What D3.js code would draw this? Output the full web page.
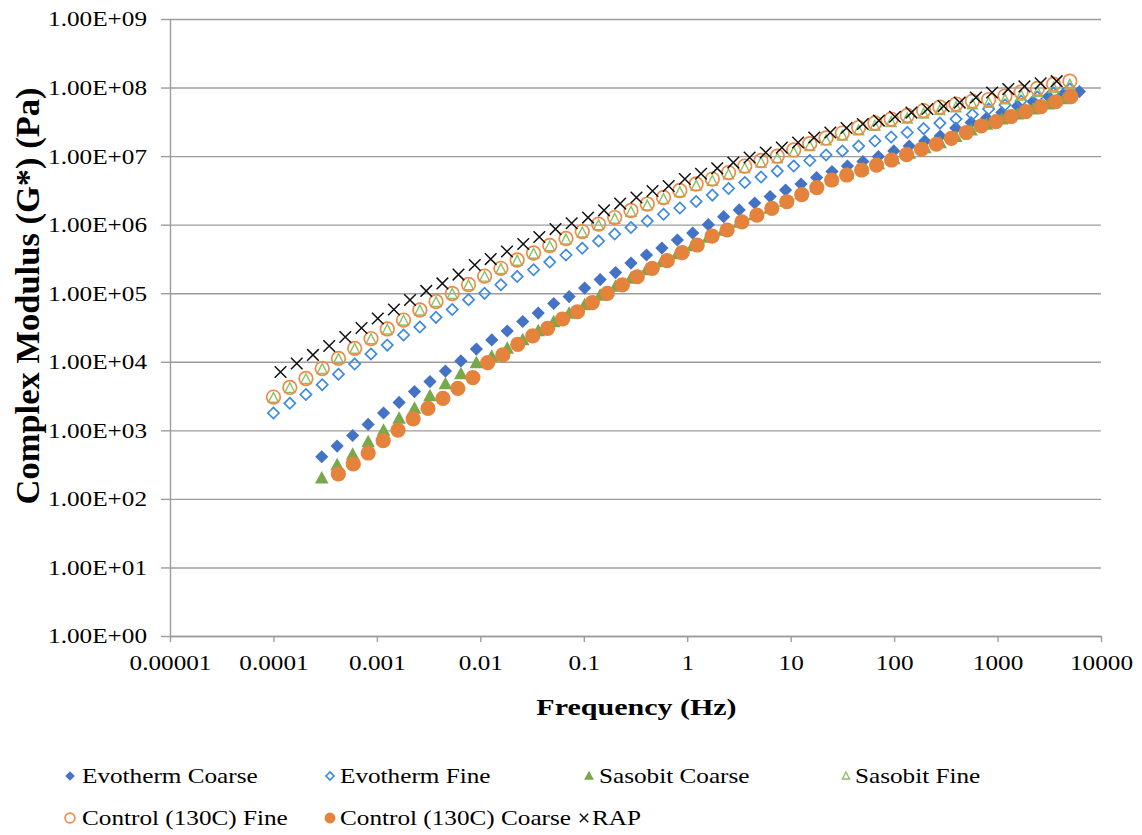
<!DOCTYPE html>
<html>
<head>
<meta charset="utf-8">
<script src="https://cdn.jsdelivr.net/npm/d3@7"></script>
<style>
  html, body { margin: 0; padding: 0; background: #fff; }
  svg { display: block; }
  text { font-family: "Liberation Serif", "Times New Roman", serif; fill: #000; }
</style>
</head>
<body>
<svg id="chart" width="1142" height="835"></svg>
<script>
// Reduced frequency grids (Hz)
const fineFreq = [1.00e-4, 1.44e-4, 2.06e-4, 2.96e-4, 4.25e-4, 6.10e-4, 8.77e-4, 1.26e-3, 1.81e-3, 2.60e-3,
  3.73e-3, 5.35e-3, 7.69e-3, 1.10e-2, 1.58e-2, 2.27e-2, 3.27e-2, 4.69e-2, 6.73e-2, 9.67e-2,
  0.139, 0.199, 0.286, 0.411, 0.590, 0.848, 1.22, 1.75, 2.51, 3.60,
  5.17, 7.43, 10.7, 15.3, 22.0, 31.6, 45.4, 65.2, 93.6, 134,
  193, 277, 397, 571, 820, 1180, 1690, 2430, 3480, 5000];

const coarseFreq = [2.93e-4, 4.13e-4, 5.83e-4, 8.23e-4, 1.16e-3, 1.64e-3, 2.31e-3, 3.26e-3, 4.60e-3, 6.49e-3,
  9.16e-3, 1.29e-2, 1.82e-2, 2.57e-2, 3.63e-2, 5.12e-2, 7.22e-2, 0.102, 0.144, 0.203,
  0.286, 0.404, 0.569, 0.803, 1.13, 1.60, 2.25, 3.18, 4.49, 6.33,
  8.93, 12.6, 17.8, 25.1, 35.4, 49.9, 70.5, 99.3, 140, 198,
  279, 394, 555, 783, 1100, 1560, 2200, 3100, 4380, 6180];

const ctrlCoarseFreq = [4.24e-4, 5.91e-4, 8.24e-4, 1.15e-3, 1.60e-3, 2.24e-3, 3.12e-3, 4.35e-3, 6.07e-3, 8.47e-3,
  1.18e-2, 1.65e-2, 2.30e-2, 3.21e-2, 4.47e-2, 6.24e-2, 8.70e-2, 0.121, 0.169, 0.236,
  0.329, 0.459, 0.641, 0.893, 1.25, 1.74, 2.43, 3.38, 4.72, 6.58,
  9.18, 12.8, 17.9, 24.9, 34.8, 48.5, 67.6, 94.4, 132, 184,
  256, 357, 498, 695, 968, 1350, 1880, 2630, 3660, 5110];

const rapFreq = [1.17e-4, 1.68e-4, 2.41e-4, 3.46e-4, 4.95e-4, 7.10e-4, 1.02e-3, 1.46e-3, 2.09e-3, 3.00e-3,
  4.30e-3, 6.15e-3, 8.83e-3, 1.26e-2, 1.81e-2, 2.60e-2, 3.72e-2, 5.33e-2, 7.64e-2, 0.110,
  0.157, 0.225, 0.323, 0.462, 0.662, 0.949, 1.36, 1.95, 2.79, 4.01,
  5.74, 8.22, 11.8, 16.9, 24.2, 34.7, 49.8, 71.3, 102, 147,
  210, 301, 431, 618, 885, 1270, 1820, 2610, 3730];

// Complex modulus |G*| (Pa)
const evoCoarseG = [4.12e2, 5.90e2, 8.40e2, 1.22e3, 1.79e3, 2.55e3, 3.68e3, 5.15e3, 7.33e3, 1.03e4,
  1.53e4, 2.08e4, 2.81e4, 3.87e4, 5.14e4, 7.08e4, 8.95e4, 1.19e5, 1.58e5, 2.00e5,
  2.75e5, 3.61e5, 4.56e5, 5.97e5, 7.55e5, 1.00e6, 1.31e6, 1.64e6, 2.07e6, 2.57e6,
  3.20e6, 3.91e6, 4.87e6, 5.96e6, 7.16e6, 8.34e6, 9.86e6, 1.19e7, 1.40e7, 1.66e7,
  1.96e7, 2.57e7, 3.09e7, 3.59e7, 4.32e7, 5.37e7, 6.25e7, 7.40e7, 8.18e7, 8.75e7];

const evoFineG = [1.79e3, 2.48e3, 3.33e3, 4.63e3, 6.59e3, 9.27e3, 1.30e4, 1.75e4, 2.46e4, 3.21e4,
  4.45e4, 5.78e4, 8.04e4, 9.96e4, 1.33e5, 1.75e5, 2.20e5, 2.85e5, 3.61e5, 4.52e5,
  5.77e5, 7.30e5, 9.08e5, 1.13e6, 1.42e6, 1.75e6, 2.18e6, 2.70e6, 3.37e6, 4.12e6,
  4.95e6, 6.05e6, 7.16e6, 8.63e6, 1.04e7, 1.19e7, 1.40e7, 1.66e7, 1.90e7, 2.21e7,
  2.52e7, 3.03e7, 3.47e7, 4.04e7, 4.86e7, 5.56e7, 6.35e7, 7.28e7, 8.32e7, 9.51e7];

const sasCoarseG = [2.00e2, 3.12e2, 4.44e2, 6.76e2, 9.94e2, 1.49e3, 2.08e3, 3.17e3, 4.74e3, 6.63e3,
  9.59e3, 1.19e4, 1.56e4, 2.08e4, 2.81e4, 3.80e4, 5.06e4, 6.73e4, 9.25e4, 1.25e5,
  1.64e5, 2.18e5, 2.85e5, 3.73e5, 4.88e5, 6.49e5, 8.22e5, 1.07e6, 1.38e6, 1.72e6,
  2.18e6, 2.80e6, 3.54e6, 4.55e6, 5.48e6, 6.48e6, 7.66e6, 9.06e6, 1.09e7, 1.31e7,
  1.55e7, 1.91e7, 2.37e7, 2.89e7, 3.43e7, 4.08e7, 4.83e7, 5.71e7, 6.81e7];

const sasFineG = [2.95e3, 4.10e3, 5.55e3, 7.80e3, 1.09e4, 1.53e4, 2.12e4, 2.93e4, 3.96e4, 5.55e4,
  7.38e4, 9.66e4, 1.30e5, 1.73e5, 2.24e5, 2.95e5, 3.73e5, 4.79e5, 6.04e5, 7.62e5,
  9.75e5, 1.21e6, 1.53e6, 1.89e6, 2.35e6, 2.96e6, 3.67e6, 4.32e6, 5.36e6, 6.64e6,
  7.98e6, 9.22e6, 1.13e7, 1.39e7, 1.68e7, 1.97e7, 2.36e7, 2.74e7, 3.12e7, 3.51e7,
  4.13e7, 4.64e7, 5.12e7, 5.64e7, 5.93e7, 6.66e7, 7.60e7, 8.53e7, 9.85e7, 1.09e8];

const ctrlFineG = [3.06e3, 4.22e3, 5.70e3, 7.98e3, 1.12e4, 1.57e4, 2.18e4, 3.01e4, 4.06e4, 5.69e4,
  7.57e4, 9.91e4, 1.34e5, 1.78e5, 2.31e5, 3.05e5, 3.86e5, 4.97e5, 6.28e5, 7.94e5,
  1.02e6, 1.27e6, 1.61e6, 2.00e6, 2.49e6, 3.15e6, 3.92e6, 4.63e6, 5.76e6, 7.16e6,
  8.63e6, 1.00e7, 1.23e7, 1.52e7, 1.84e7, 2.17e7, 2.61e7, 3.04e7, 3.47e7, 3.91e7,
  4.62e7, 5.20e7, 5.75e7, 6.35e7, 6.68e7, 7.52e7, 8.61e7, 9.68e7, 1.12e8, 1.24e8];

const ctrlCoarseG = [2.31e2, 3.23e2, 4.67e2, 7.06e2, 1.01e3, 1.47e3, 2.09e3, 2.93e3, 4.10e3, 5.89e3,
  9.75e3, 1.26e4, 1.79e4, 2.38e4, 3.08e4, 4.21e4, 5.37e4, 7.31e4, 9.96e4, 1.32e5,
  1.74e5, 2.31e5, 2.98e5, 3.90e5, 5.05e5, 6.82e5, 8.36e5, 1.10e6, 1.38e6, 1.73e6,
  2.16e6, 2.75e6, 3.48e6, 4.48e6, 5.30e6, 6.27e6, 7.41e6, 8.77e6, 1.05e7, 1.26e7,
  1.49e7, 1.82e7, 2.21e7, 2.75e7, 3.19e7, 3.78e7, 4.47e7, 5.28e7, 6.21e7, 7.35e7];

const rapG = [7.09e3, 9.44e3, 1.26e4, 1.70e4, 2.30e4, 3.11e4, 4.28e4, 5.78e4, 7.96e4, 1.08e5,
  1.39e5, 1.87e5, 2.58e5, 3.15e5, 4.06e5, 5.22e5, 6.60e5, 8.63e5, 1.05e6, 1.27e6,
  1.62e6, 2.03e6, 2.49e6, 3.10e6, 3.66e6, 4.63e6, 5.53e6, 6.64e6, 8.05e6, 9.53e6,
  1.13e7, 1.33e7, 1.58e7, 1.87e7, 2.21e7, 2.57e7, 2.94e7, 3.30e7, 3.75e7, 4.32e7,
  4.86e7, 5.37e7, 6.04e7, 7.15e7, 8.46e7, 9.51e7, 1.04e8, 1.15e8, 1.24e8];

// Axis ticks
const xTickValues = [1e-5, 1e-4, 1e-3, 1e-2, 1e-1, 1, 10, 100, 1000, 10000];
const xTickLabels = ["0.00001", "0.0001", "0.001", "0.01", "0.1", "1", "10", "100", "1000", "10000"];
const yTickValues = [1, 1e1, 1e2, 1e3, 1e4, 1e5, 1e6, 1e7, 1e8, 1e9];
const yTickLabels = ["1.00E+00", "1.00E+01", "1.00E+02", "1.00E+03", "1.00E+04",
  "1.00E+05", "1.00E+06", "1.00E+07", "1.00E+08", "1.00E+09"];

const seriesNames = ["Evotherm Coarse", "Evotherm Fine", "Sasobit Coarse", "Sasobit Fine",
  "Control (130C) Fine", "Control (130C) Coarse", "RAP"];

// Series definitions: drawn in this order (later ones on top)
const series = [
  { name: seriesNames[0], freq: coarseFreq,     g: evoCoarseG,  shape: "diamondFilled",  color: "#4472C4" },
  { name: seriesNames[1], freq: fineFreq,       g: evoFineG,    shape: "diamondOpen",    color: "#3D8BE0" },
  { name: seriesNames[2], freq: coarseFreq,     g: sasCoarseG,  shape: "triangleFilled", color: "#77A84A" },
  { name: seriesNames[3], freq: fineFreq,       g: sasFineG,    shape: "triangleOpen",   color: "#8CC063" },
  { name: seriesNames[4], freq: fineFreq,       g: ctrlFineG,   shape: "circleOpen",     color: "#F08A45" },
  { name: seriesNames[5], freq: ctrlCoarseFreq, g: ctrlCoarseG, shape: "circleFilled",   color: "#E5823C" },
  { name: seriesNames[6], freq: rapFreq,        g: rapG,        shape: "cross",          color: "#111111" }
];

const svg = d3.select("#chart");
const plot = { left: 170, right: 1101, top: 19, bottom: 636 };
const SX = 1.2; // horizontal text stretch

const x = d3.scaleLog().domain([1e-5, 1e4]).range([plot.left, plot.right]);
const y = d3.scaleLog().domain([1, 1e9]).range([plot.bottom, plot.top]);

function stretch(sel, sx) {
  sel.each(function () {
    const w = this.getComputedTextLength();
    this.setAttribute("textLength", (w * sx).toFixed(2));
    this.setAttribute("lengthAdjust", "spacingAndGlyphs");
  });
}

// Gridlines + y axis ticks
const gridColor = "#9c9c9c";
const yAxis = d3.axisLeft(y).tickValues(yTickValues)
  .tickFormat((d, i) => yTickLabels[i])
  .tickSize(-(plot.right - plot.left)).tickSizeOuter(0).tickPadding(14);
const gy = svg.append("g").attr("transform", `translate(${plot.left},0)`).call(yAxis);
gy.select(".domain").attr("stroke", gridColor).attr("stroke-width", 1.4);
gy.selectAll(".tick line").attr("stroke", gridColor).attr("stroke-width", 1.4);
// short outward tick stubs
gy.selectAll(".tick").append("line")
  .attr("x1", -9).attr("x2", 0).attr("stroke", gridColor).attr("stroke-width", 1.4);
gy.selectAll(".tick text")
  .attr("font-size", 21).attr("font-family", "Liberation Serif")
  .attr("fill", "#000").attr("x", -23).attr("dy", "0.33em");
stretch(gy.selectAll(".tick text"), SX);

// x axis
const xAxis = d3.axisBottom(x).tickValues(xTickValues)
  .tickFormat((d, i) => xTickLabels[i]).tickSize(6).tickSizeOuter(0).tickPadding(20);
const gx = svg.append("g").attr("transform", `translate(0,${plot.bottom})`).call(xAxis);
gx.select(".domain").attr("stroke", gridColor).attr("stroke-width", 1.4);
gx.selectAll(".tick line").attr("stroke", gridColor).attr("stroke-width", 1.4);
gx.selectAll(".tick text")
  .attr("font-size", 21).attr("font-family", "Liberation Serif")
  .attr("fill", "#000").attr("dy", "0.71em").attr("y", 19);
stretch(gx.selectAll(".tick text"), SX);

// Axis titles
const xt = svg.append("text").attr("x", (plot.left + plot.right) / 2 + 1).attr("y", 715)
  .attr("text-anchor", "middle").attr("font-size", 24).attr("font-weight", "bold")
  .text("Frequency (Hz)");
stretch(xt, 1.25);

svg.append("text")
  .attr("transform", "translate(39,296) rotate(-90)")
  .attr("text-anchor", "middle").attr("font-size", 33).attr("font-weight", "bold")
  .attr("textLength", 417).attr("lengthAdjust", "spacingAndGlyphs")
  .text("Complex Modulus (G*) (Pa)");

// Marker drawing
function drawMarker(g, shape, color, s) {
  switch (shape) {
    case "diamondFilled":
      g.append("path").attr("d", `M0,${-6.6 * s}L${6.6 * s},0L0,${6.6 * s}L${-6.6 * s},0Z`).attr("fill", color);
      break;
    case "diamondOpen":
      g.append("path").attr("d", `M0,${-5.6 * s}L${5.6 * s},0L0,${5.6 * s}L${-5.6 * s},0Z`)
        .attr("fill", "#fff").attr("fill-opacity", 0).attr("stroke", color).attr("stroke-width", 1.7);
      break;
    case "triangleFilled":
      g.append("path").attr("d", `M0,${-7.2 * s}L${6.8 * s},${5.2 * s}L${-6.8 * s},${5.2 * s}Z`).attr("fill", color);
      break;
    case "triangleOpen":
      g.append("path").attr("d", `M0,${-5.6 * s}L${5.0 * s},${4.2 * s}L${-5.0 * s},${4.2 * s}Z`)
        .attr("fill", "none").attr("stroke", color).attr("stroke-width", 1.4);
      break;
    case "circleOpen":
      g.append("circle").attr("r", 6.8 * s).attr("fill", "none").attr("stroke", color).attr("stroke-width", 1.7);
      break;
    case "circleFilled":
      g.append("circle").attr("r", 7.6 * s).attr("fill", color);
      break;
    case "cross":
      g.append("path").attr("d", `M${-5.8 * s},${-5.8 * s}L${5.8 * s},${5.8 * s}M${5.8 * s},${-5.8 * s}L${-5.8 * s},${5.8 * s}`)
        .attr("stroke", color).attr("stroke-width", 1.5).attr("fill", "none");
      break;
  }
}

// Series points
series.forEach(s => {
  const pts = s.freq.map((f, i) => ({ f: f, g: s.g[i] })).filter(d => d.g != null);
  const grp = svg.append("g").attr("class", "series");
  grp.selectAll("g.pt").data(pts).enter().append("g").attr("class", "pt")
    .attr("transform", d => `translate(${x(d.f)},${y(d.g)})`)
    .each(function () { drawMarker(d3.select(this), s.shape, s.color, 1); });
});

// Legend
const legendPos = [
  { mx: 70, tx: 82, y: 776 }, { mx: 330, tx: 340, y: 776 }, { mx: 589, tx: 599, y: 776 }, { mx: 846, tx: 855, y: 776 },
  { mx: 70, tx: 82, y: 818 }, { mx: 330, tx: 340, y: 818 }, { mx: 584, tx: 592, y: 818 }
];
series.forEach((s, i) => {
  const p = legendPos[i];
  const lg = svg.append("g").attr("transform", `translate(${p.mx},${p.y})`);
  drawMarker(lg, s.shape, s.color, 0.72);
  const t = svg.append("text").attr("x", p.tx).attr("y", p.y + 7)
    .attr("font-size", 21).text(s.name);
  stretch(t, SX);
});
</script>
</body>
</html>
